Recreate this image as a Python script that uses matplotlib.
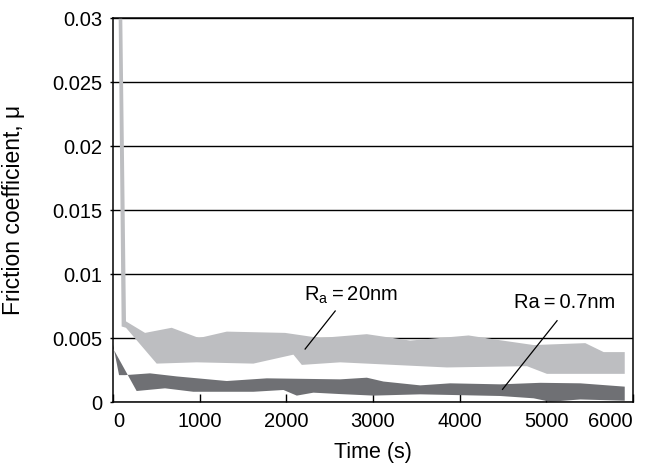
import matplotlib
matplotlib.use("Agg")
import matplotlib.pyplot as plt
from matplotlib.ticker import FixedLocator, FixedFormatter

plt.rcParams['font.family'] = ['Liberation Sans', 'DejaVu Sans']

# Ra = 20 nm band (upper / lower envelope)
rough_t_up = [60, 100, 150, 370, 677, 993, 1313, 1986, 2390, 2929, 3430, 4103, 4392,
              4854, 5450, 5662, 5905]
rough_mu_up = [0.034, 0.034, 0.0063, 0.0054, 0.0058, 0.0050, 0.0055, 0.0054, 0.0050,
               0.0053, 0.0048, 0.0052, 0.0049, 0.00445, 0.0046, 0.0039, 0.0039]
rough_t_low = [60, 100, 150, 504, 966, 1620, 2082, 2179, 2621, 3853, 4777, 5007, 5905]
rough_mu_low = [0.034, 0.0059, 0.0058, 0.0030, 0.0031, 0.0030, 0.0037, 0.0029, 0.0031,
                0.0027, 0.0028, 0.0022, 0.0022]

# Ra = 0.7 nm band
smooth_t_up = [0, 70, 139, 427, 735, 1313, 1775, 2621, 2929, 3121, 3545, 3891, 4469,
               4931, 5393, 5905]
smooth_mu_up = [0.0045, 0.0021, 0.0021, 0.00224, 0.0020, 0.00164, 0.00185, 0.00177,
                0.0019, 0.0016, 0.0013, 0.00146, 0.00138, 0.0015, 0.00146, 0.0012]
smooth_t_low = [0, 273, 600, 927, 1620, 1967, 2121, 2313, 2621, 3006, 3545, 4469, 4854,
                5046, 5393, 5905]
smooth_mu_low = [0.0042, 0.00086, 0.00107, 0.0008, 0.0008, 0.00094, 0.0005, 0.00073,
                 0.00062, 0.0005, 0.0006, 0.00047, 0.00029, 0.00002, 0.0002, 0.0001]

yticks = [0, 0.005, 0.01, 0.015, 0.02, 0.025, 0.03]
ytick_labels = ["0", "0.005", "0.01", "0.015", "0.02", "0.025", "0.03"]
xticks = [0, 1000, 2000, 3000, 4000, 5000, 6000]

fig = plt.figure(figsize=(6.49, 4.68), dpi=100)
ax = fig.add_axes([0.1741, 0.141, 0.8012, 0.8205])

ax.fill(rough_t_up + rough_t_low[::-1], rough_mu_up + rough_mu_low[::-1],
        color="#bdbec1", lw=0, zorder=2)
ax.fill(smooth_t_up + smooth_t_low[::-1], smooth_mu_up + smooth_mu_low[::-1],
        color="#6f7074", lw=0, zorder=2)

ax.set_xlim(0, 6000)
ax.set_ylim(0, 0.03)
ax.yaxis.set_major_locator(FixedLocator(yticks))
ax.yaxis.set_major_formatter(FixedFormatter(ytick_labels))
ax.set_xticks(xticks)
ax.grid(axis="y", color="black", lw=1.0, zorder=1)
ax.set_axisbelow(True)

for s in ax.spines.values():
    s.set_linewidth(1.1)
    s.set_zorder(3)

ax.tick_params(axis="x", direction="in", length=5.5, width=1.0, pad=7, labelsize=14.5)
ax.tick_params(axis="y", direction="out", length=2.5, width=1.0, pad=5, labelsize=14.5)

# keep the end labels inside the frame
xlabels = ax.get_xticklabels()
xlabels[0].set_horizontalalignment("left")
xlabels[-1].set_horizontalalignment("right")

ax.set_xlabel("Time (s)", fontsize=15.5, labelpad=8)
ax.set_ylabel("Friction coefficient, μ", fontsize=16.5, labelpad=20)

ax.text(2742, 0.00836, "R$_\\mathregular{a}$\u2009=\u200920nm", fontsize=14.5,
        ha="center", va="center")
ax.plot([2564, 2217], [0.00711, 0.00414], color="black", lw=0.9, zorder=4)
ax.text(5208, 0.00776, "Ra\u2009=\u20090.7nm", fontsize=14.5, ha="center", va="center")
ax.plot([5124, 4495], [0.00635, 0.00099], color="black", lw=0.9, zorder=4)

fig.savefig("out.png", dpi=100)
